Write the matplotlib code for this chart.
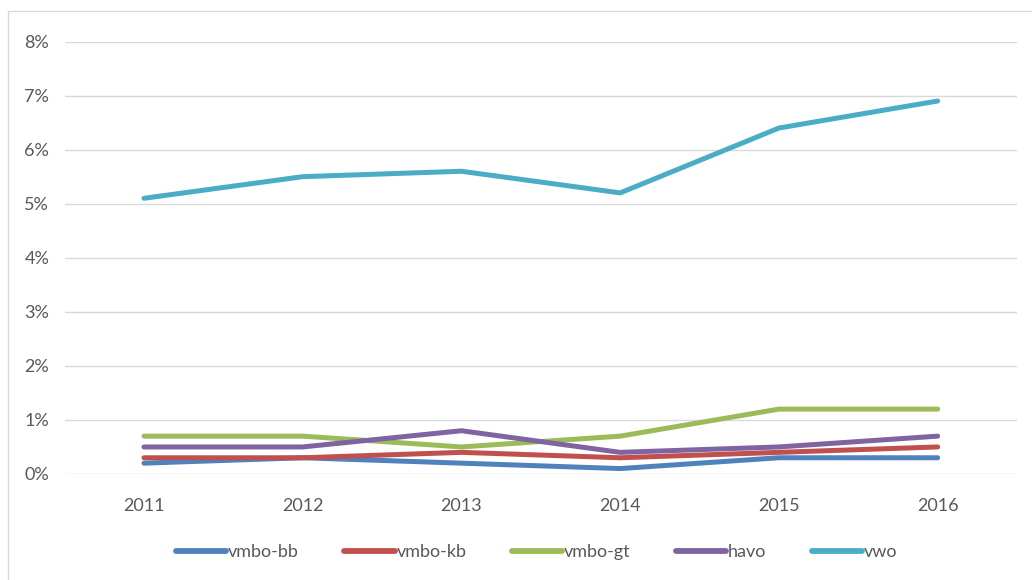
import matplotlib.pyplot as plt
from matplotlib.patches import Rectangle
from matplotlib.ticker import FuncFormatter

years = ["2011", "2012", "2013", "2014", "2015", "2016"]
vmbo_bb = [0.2, 0.3, 0.2, 0.1, 0.3, 0.3]
vmbo_kb = [0.3, 0.3, 0.4, 0.3, 0.4, 0.5]
vmbo_gt = [0.7, 0.7, 0.5, 0.7, 1.2, 1.2]
havo = [0.5, 0.5, 0.8, 0.4, 0.5, 0.7]
vwo = [5.1, 5.5, 5.6, 5.2, 6.4, 6.9]

series = [
    ("vmbo-bb", vmbo_bb, "#4F81BD"),
    ("vmbo-kb", vmbo_kb, "#C0504D"),
    ("vmbo-gt", vmbo_gt, "#9BBB59"),
    ("havo", havo, "#8064A2"),
    ("vwo", vwo, "#4BACC6"),
]

plt.rcParams['font.family'] = ['Lato', 'DejaVu Sans']
text_color = "#595959"

fig = plt.figure(figsize=(10.32, 5.8), dpi=100)
ax = fig.add_axes([0.0626, 0.1828, 0.9229, 0.7456])

x = list(range(len(years)))
for name, vals, col in series:
    ax.plot(x, vals, color=col, lw=3.6, solid_capstyle='round', label=name)

ax.set_xlim(-0.5, len(years) - 0.5)
ax.set_ylim(0, 8)
ax.set_yticks(range(0, 9))
ax.yaxis.set_major_formatter(FuncFormatter(lambda v, p: f"{v:.0f}%"))
ax.set_xticks(x)
ax.set_xticklabels(years)
ax.grid(axis='y', color="#D9D9D9", lw=1)
ax.set_axisbelow(True)
for s in ax.spines.values():
    s.set_visible(False)
ax.tick_params(length=0, colors=text_color, labelsize=13)
ax.tick_params(axis='x', pad=17)
ax.tick_params(axis='y', pad=11)

leg = fig.legend(loc='center', bbox_to_anchor=(0.52, 0.048), ncol=5, frameon=False,
                 handlelength=2.8, handletextpad=0.1, columnspacing=2.5,
                 fontsize=13)
for t in leg.get_texts():
    t.set_color(text_color)
for h in leg.get_lines():
    h.set_linewidth(4.2)
    h.set_solid_capstyle('round')

fig.patches.append(Rectangle((8 / 1032, -0.1), 1.1, 1 - 11 / 580 + 0.1,
                             transform=fig.transFigure, fill=False,
                             edgecolor="#D9D9D9", lw=1))

fig.savefig("out.png", dpi=100)
